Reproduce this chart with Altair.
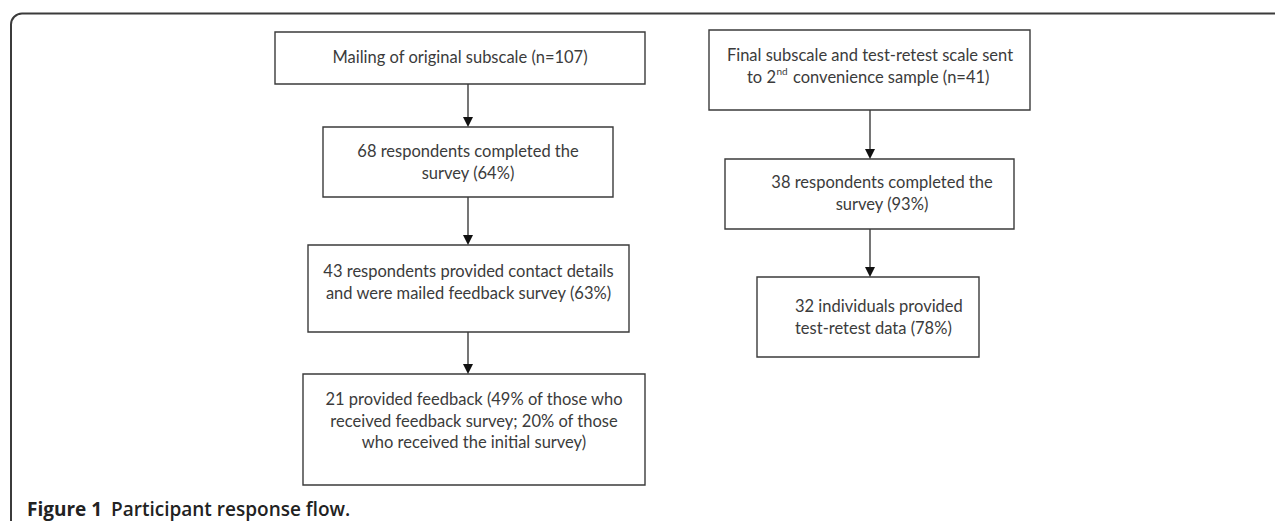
import altair as alt
import pandas as pd

# ---------------- content ----------------
box_texts = [
    ["Mailing of original subscale (n=107)"],
    ["68 respondents completed the", "survey (64%)"],
    ["43 respondents provided contact details", "and were mailed feedback survey (63%)"],
    ["21 provided feedback (49% of those who", "received feedback survey; 20% of those",
     "who received the initial survey)"],
    ["Final subscale and test-retest scale sent"],
    ["38 respondents completed the", "survey (93%)"],
    ["32 individuals provided", "test-retest data (78%)"],
]
sup_line = ["to 2", "nd", "convenience sample (n=41)"]
caption_bold = "Figure 1"
caption_rest = "Participant response flow."
arrow_links = [(0, 1), (1, 2), (2, 3), (4, 5), (5, 6)]

# ---------------- layout (page pixels) ----------------
box_x1 = [275, 323, 308, 303, 709, 725, 757]
box_x2 = [645, 613, 629, 645, 1030, 1014, 979]
box_y1 = [32, 127, 245, 374, 30, 159, 277]
box_y2 = [84, 197, 332, 485, 110, 229, 357]
text_cx = [460, 468, 468.5, 474, 870, 882, 879]
text_y0 = [58, 152, 272, 400, 56, 183, 307]
text_align = ["center"] * 6 + ["left"]
text_left_r3 = 795
line_gap = 21.5
arrow_x = [468, 468, 468, 870, 870]
head = 10
FS = 16.5

W, H = 1267, 513
xs = alt.Scale(domain=[8, 8 + W])
ys = alt.Scale(domain=[8, 8 + H], reverse=True)
INK = "#3b3b3b"
FONT = "Lato"

boxes = pd.DataFrame({"x1": box_x1, "x2": box_x2, "y1": box_y1, "y2": box_y2})

lines = []
for i, tl in enumerate(box_texts):
    for k, t in enumerate(tl):
        lines.append({"x": text_cx[i] if text_align[i] == "center" else text_left_r3,
                      "y": text_y0[i] + k * line_gap, "t": t, "a": text_align[i]})
lines_df = pd.DataFrame(lines)

arr = []
for (a, b), ax in zip(arrow_links, arrow_x):
    arr.append({"x": ax, "y1": box_y2[a], "y2": box_y1[b] - head / 2, "yh": box_y1[b] - head / 2})
arr_df = pd.DataFrame(arr)

frame = alt.Chart(pd.DataFrame({"x1": [11], "x2": [1400], "y1": [13.5], "y2": [700]})).mark_rect(
    fill=None, stroke=INK, strokeWidth=2, cornerRadius=11, clip=True
).encode(
    x=alt.X("x1:Q", scale=xs, axis=None), x2="x2:Q",
    y=alt.Y("y1:Q", scale=ys, axis=None), y2="y2:Q",
)

box_layer = alt.Chart(boxes).mark_rect(fill="white", stroke=INK, strokeWidth=1.4).encode(
    x=alt.X("x1:Q", scale=xs, axis=None), x2="x2:Q",
    y=alt.Y("y1:Q", scale=ys, axis=None), y2="y2:Q",
)

center_lines = alt.Chart(lines_df[lines_df.a == "center"]).mark_text(
    font=FONT, fontSize=FS, color=INK, align="center", baseline="middle"
).encode(x=alt.X("x:Q", scale=xs, axis=None), y=alt.Y("y:Q", scale=ys, axis=None), text="t:N")

left_lines = alt.Chart(lines_df[lines_df.a == "left"]).mark_text(
    font=FONT, fontSize=FS, color=INK, align="left", baseline="middle"
).encode(x=alt.X("x:Q", scale=xs, axis=None), y=alt.Y("y:Q", scale=ys, axis=None), text="t:N")

sup_df = pd.DataFrame({"x": [776, 776.5, 793], "y": [78, 72, 78], "t": sup_line})
sup_a = alt.Chart(sup_df.iloc[[0]]).mark_text(
    font=FONT, fontSize=FS, color=INK, align="right", baseline="middle"
).encode(x=alt.X("x:Q", scale=xs, axis=None), y=alt.Y("y:Q", scale=ys, axis=None), text="t:N")
sup_b = alt.Chart(sup_df.iloc[[1]]).mark_text(
    font=FONT, fontSize=10, color=INK, align="left", baseline="middle"
).encode(x=alt.X("x:Q", scale=xs, axis=None), y=alt.Y("y:Q", scale=ys, axis=None), text="t:N")
sup_c = alt.Chart(sup_df.iloc[[2]]).mark_text(
    font=FONT, fontSize=FS, color=INK, align="left", baseline="middle"
).encode(x=alt.X("x:Q", scale=xs, axis=None), y=alt.Y("y:Q", scale=ys, axis=None), text="t:N")

shafts = alt.Chart(arr_df).mark_rule(color=INK, strokeWidth=1.4).encode(
    x=alt.X("x:Q", scale=xs, axis=None),
    y=alt.Y("y1:Q", scale=ys, axis=None), y2="y2:Q",
)
heads = alt.Chart(arr_df).mark_point(
    shape="M-1,-1L1,-1L0,1Z", filled=True, fill="#111", stroke=None, opacity=1, size=head * head
).encode(x=alt.X("x:Q", scale=xs, axis=None), y=alt.Y("yh:Q", scale=ys, axis=None))

cap_df = pd.DataFrame({"x": [27, 111], "y": [515.5, 515.5], "t": [caption_bold, caption_rest]})
cap_a = alt.Chart(cap_df.iloc[[0]]).mark_text(
    font="Open Sans", fontSize=19, fontWeight="bold", color="#222", align="left", baseline="alphabetic"
).encode(x=alt.X("x:Q", scale=xs, axis=None), y=alt.Y("y:Q", scale=ys, axis=None), text="t:N")
cap_b = alt.Chart(cap_df.iloc[[1]]).mark_text(
    font="Open Sans", fontSize=19, fontWeight=600, color="#222", align="left", baseline="alphabetic"
).encode(x=alt.X("x:Q", scale=xs, axis=None), y=alt.Y("y:Q", scale=ys, axis=None), text="t:N")

chart = alt.layer(
    frame, box_layer, shafts, heads, center_lines, left_lines, sup_a, sup_b, sup_c, cap_a, cap_b
).properties(width=W, height=H, padding=0).configure_view(strokeWidth=0)

chart.save("out.html", embed_options={"renderer": "svg", "actions": False})
